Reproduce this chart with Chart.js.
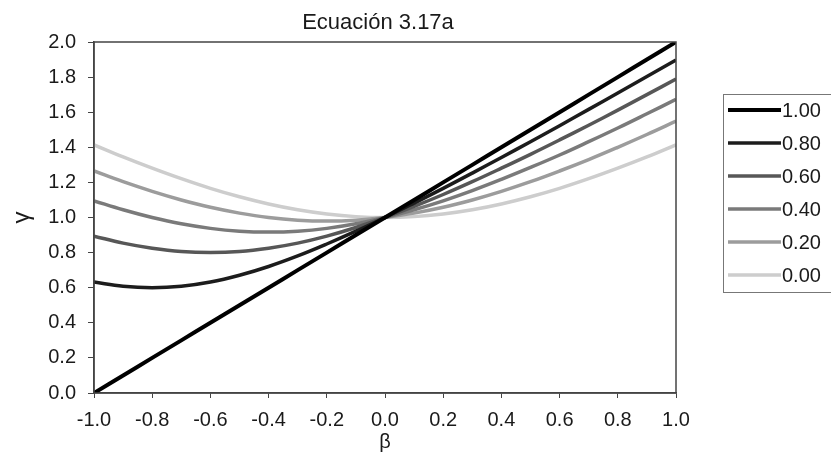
<!DOCTYPE html>
<html lang="es">
<head>
  <meta charset="UTF-8" />
  <title>Ecuación 3.17a</title>
  <script src="https://cdn.jsdelivr.net/npm/chart.js"></script>
  <style>
    html, body { margin: 0; padding: 0; background: #fff; }
    #wrap { width: 831px; height: 452px; }
  </style>
</head>
<body>
  <div id="wrap"><canvas id="chart" width="831" height="452"></canvas></div>

  <script>
    // Werte (Schritt 0.1 auf der beta-Achse)
    const beta = [-1.0, -0.9, -0.8, -0.7, -0.6, -0.5, -0.4, -0.3, -0.2, -0.1, 0.0,
                  0.1, 0.2, 0.3, 0.4, 0.5, 0.6, 0.7, 0.8, 0.9, 1.0];

    const gamma100 = [0.000, 0.100, 0.200, 0.300, 0.400, 0.500, 0.600, 0.700, 0.800, 0.900, 1.000,
                      1.100, 1.200, 1.300, 1.400, 1.500, 1.600, 1.700, 1.800, 1.900, 2.000];
    const gamma080 = [0.632, 0.608, 0.600, 0.608, 0.632, 0.671, 0.721, 0.781, 0.849, 0.922, 1.000,
                      1.082, 1.166, 1.253, 1.342, 1.432, 1.523, 1.616, 1.709, 1.803, 1.897];
    const gamma060 = [0.894, 0.854, 0.825, 0.806, 0.800, 0.806, 0.825, 0.854, 0.894, 0.943, 1.000,
                      1.063, 1.131, 1.204, 1.281, 1.360, 1.442, 1.526, 1.612, 1.700, 1.789];
    const gamma040 = [1.095, 1.044, 1.000, 0.964, 0.938, 0.922, 0.917, 0.922, 0.938, 0.964, 1.000,
                      1.044, 1.095, 1.153, 1.217, 1.285, 1.356, 1.432, 1.510, 1.591, 1.673];
    const gamma020 = [1.265, 1.204, 1.149, 1.100, 1.058, 1.025, 1.000, 0.985, 0.980, 0.985, 1.000,
                      1.025, 1.058, 1.100, 1.149, 1.204, 1.265, 1.330, 1.400, 1.473, 1.549];
    const gamma000 = [1.414, 1.345, 1.281, 1.221, 1.166, 1.118, 1.077, 1.044, 1.020, 1.005, 1.000,
                      1.005, 1.020, 1.044, 1.077, 1.118, 1.166, 1.221, 1.281, 1.345, 1.414];

    const seriesLabels = ['1.00', '0.80', '0.60', '0.40', '0.20', '0.00'];
    const seriesValues = [gamma100, gamma080, gamma060, gamma040, gamma020, gamma000];
    const lineColors = ['#000000', '#1c1c1c', '#575757', '#7a7a7a', '#9c9c9c', '#cdcdcd'];
    const lineWidths = [4, 3.5, 3.5, 3.5, 3.5, 3.5];

    const FONT = '"Liberation Sans", Arial, sans-serif';
    const fmt = v => {
      const s = Number(v).toFixed(1);
      return s === '-0.0' ? '0.0' : s;
    };

    // Rahmen, Titel und Legende (mit Kasten) selbst zeichnen
    const extrasPlugin = {
      id: 'extras',
      afterDraw(chart) {
        const { ctx, chartArea: a } = chart;
        ctx.save();
        ctx.strokeStyle = '#444';
        ctx.lineWidth = 1.5;
        ctx.strokeRect(a.left, a.top, a.right - a.left, a.bottom - a.top);

        ctx.fillStyle = '#1a1a1a';
        ctx.font = '22px ' + FONT;
        ctx.textAlign = 'center';
        ctx.textBaseline = 'middle';
        ctx.fillText('Ecuación 3.17a', (a.left + a.right) / 2 - 7, 23);

        // Legende
        ctx.strokeStyle = '#777';
        ctx.lineWidth = 1;
        ctx.strokeRect(723.5, 94.5, 130, 198);
        ctx.font = '20px ' + FONT;
        ctx.textAlign = 'left';
        chart.data.datasets.forEach((ds, i) => {
          const y = 110 + i * 33;
          ctx.strokeStyle = ds.borderColor;
          ctx.lineWidth = ds.borderWidth;
          ctx.beginPath();
          ctx.moveTo(728, y);
          ctx.lineTo(781, y);
          ctx.stroke();
          ctx.fillStyle = '#1a1a1a';
          ctx.fillText(ds.label, 782, y + 1);
        });
        ctx.restore();
      }
    };

    const ctx = document.getElementById('chart').getContext('2d');
    const chart = new Chart(ctx, {
      type: 'line',
      data: {
        datasets: seriesLabels.map((label, i) => ({
          label: label,
          data: beta.map((b, j) => ({ x: b, y: seriesValues[i][j] })),
          borderColor: lineColors[i],
          backgroundColor: lineColors[i],
          borderWidth: lineWidths[i],
          pointRadius: 0,
          tension: 0.4,
          fill: false
        }))
      },
      options: {
        responsive: false,
        animation: false,
        devicePixelRatio: 1,
        layout: { padding: { top: 42, right: 155, bottom: 0, left: 0 } },
        plugins: {
          legend: { display: false },
          title: { display: false },
          tooltip: { enabled: false }
        },
        scales: {
          x: {
            type: 'linear',
            min: -1,
            max: 1,
            ticks: {
              stepSize: 0.2,
              color: '#1a1a1a',
              font: { size: 20, family: FONT },
              padding: 10,
              maxRotation: 0,
              autoSkip: false,
              callback: v => fmt(v)
            },
            grid: { drawOnChartArea: false, tickLength: 5, color: '#444' },
            border: { color: '#444', width: 1.5 },
            title: {
              display: true,
              text: 'β',
              color: '#1a1a1a',
              font: { size: 20, family: FONT, lineHeight: 1 },
              padding: 0
            },
            afterFit(s) { s.height = 59; }
          },
          y: {
            type: 'linear',
            min: 0,
            max: 2,
            ticks: {
              stepSize: 0.2,
              color: '#1a1a1a',
              font: { size: 20, family: FONT },
              padding: 12,
              callback: v => fmt(v)
            },
            grid: { drawOnChartArea: false, tickLength: 6, color: '#444' },
            border: { color: '#444', width: 1.5 },
            title: {
              display: true,
              text: 'γ',
              color: '#1a1a1a',
              font: { size: 24, family: FONT, lineHeight: 1 },
              padding: 10
            },
            afterFit(s) { s.width = 94; }
          }
        }
      },
      plugins: [extrasPlugin]
    });
  </script>
</body>
</html>
